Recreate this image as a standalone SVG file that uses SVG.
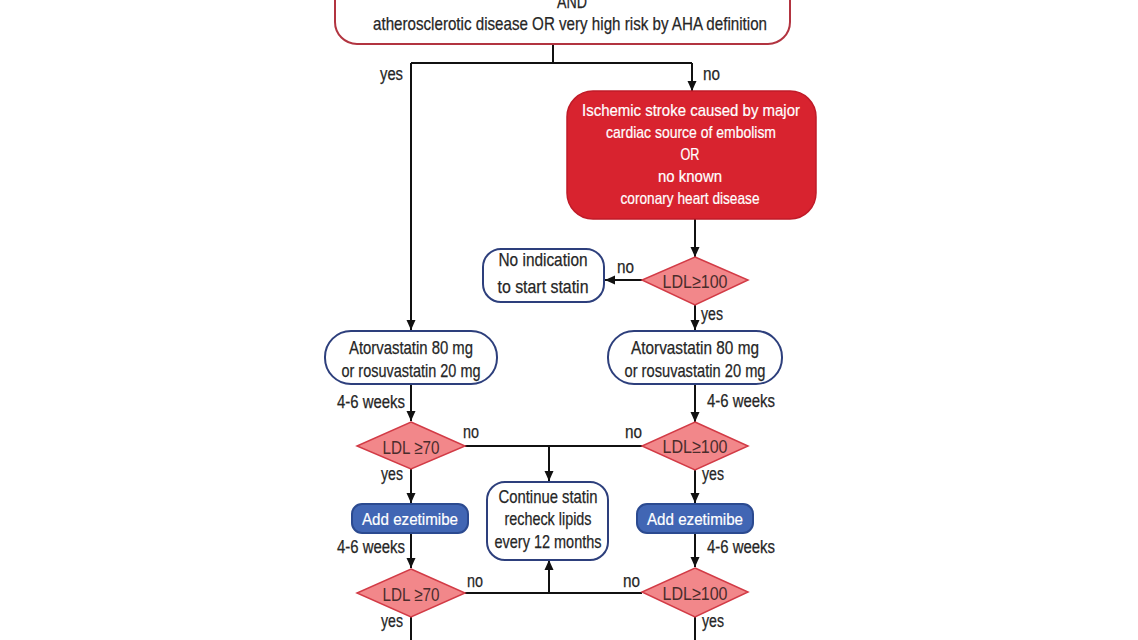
<svg xmlns="http://www.w3.org/2000/svg" width="1138" height="640" viewBox="0 0 1138 640">
<defs>
<marker id="arr" markerUnits="userSpaceOnUse" markerWidth="10" markerHeight="10" refX="10" refY="5" orient="auto">
<path d="M0,0.5 L10,5 L0,9.5 z" fill="#111"/>
</marker>
<style>
text{font-family:"Liberation Sans",Arial,sans-serif;}
.t{font-size:19px;fill:#262626;text-anchor:middle;stroke:#262626;stroke-width:0.25;}
.s{font-size:18px;fill:#262626;stroke:#262626;stroke-width:0.25;}
.w{font-size:17px;fill:#ffffff;text-anchor:middle;stroke:#ffffff;stroke-width:0.2;}
.d{font-size:19px;fill:#4a2c2c;text-anchor:middle;}
.box{fill:#ffffff;stroke:#2d3f7c;stroke-width:2;}
.dia{fill:#f2878a;stroke:#d23b46;stroke-width:1.5;}
.ez{fill:#4166b4;stroke:#2b4a90;stroke-width:2;}
.ln{fill:none;stroke:#111;stroke-width:2;}
.ar{fill:none;stroke:#111;stroke-width:2;marker-end:url(#arr);}
</style>
</defs>
<rect width="1138" height="640" fill="#ffffff"/>

<g id="connectors">
<path class="ln" d="M553,44 V63 M411,63 H692"/>
<path class="ar" d="M411,63 V330"/>
<path class="ar" d="M692,63 V91"/>
<path class="ar" d="M695,219 V257"/>
<path class="ar" d="M642,280 H605"/>
<path class="ar" d="M695,305 V330"/>
<path class="ar" d="M411,385 V421"/>
<path class="ar" d="M695,385 V422"/>
<path class="ln" d="M465,446 H642"/>
<path class="ar" d="M549,446 V481"/>
<path class="ar" d="M411,469 V503"/>
<path class="ar" d="M695,470 V503"/>
<path class="ar" d="M411,533 V568"/>
<path class="ar" d="M695,533 V567"/>
<path class="ln" d="M465,593 H642"/>
<path class="ar" d="M549,593 V560"/>
<path class="ln" d="M411,617 V640 M695,617 V640"/>
<text class="s" x="380" y="80" textLength="23" lengthAdjust="spacingAndGlyphs">yes</text>
<text class="s" x="703" y="80" textLength="17" lengthAdjust="spacingAndGlyphs">no</text>
<text class="s" x="617" y="273" textLength="17" lengthAdjust="spacingAndGlyphs">no</text>
<text class="s" x="701" y="320" textLength="22" lengthAdjust="spacingAndGlyphs">yes</text>
<text class="s" x="405" y="408" text-anchor="end" textLength="68" lengthAdjust="spacingAndGlyphs">4-6 weeks</text>
<text class="s" x="707" y="407" textLength="68" lengthAdjust="spacingAndGlyphs">4-6 weeks</text>
<text class="s" x="463" y="438" textLength="16" lengthAdjust="spacingAndGlyphs">no</text>
<text class="s" x="625" y="438" textLength="17" lengthAdjust="spacingAndGlyphs">no</text>
<text class="s" x="381" y="480" textLength="22" lengthAdjust="spacingAndGlyphs">yes</text>
<text class="s" x="702" y="480" textLength="22" lengthAdjust="spacingAndGlyphs">yes</text>
<text class="s" x="405" y="553" text-anchor="end" textLength="68" lengthAdjust="spacingAndGlyphs">4-6 weeks</text>
<text class="s" x="707" y="553" textLength="68" lengthAdjust="spacingAndGlyphs">4-6 weeks</text>
<text class="s" x="467" y="587" textLength="16" lengthAdjust="spacingAndGlyphs">no</text>
<text class="s" x="623" y="587" textLength="17" lengthAdjust="spacingAndGlyphs">no</text>
<text class="s" x="381" y="627" textLength="22" lengthAdjust="spacingAndGlyphs">yes</text>
<text class="s" x="702" y="627" textLength="22" lengthAdjust="spacingAndGlyphs">yes</text>
</g>

<g id="n-top">
<rect x="335" y="-40" width="455" height="84" rx="22" fill="#ffffff" stroke="#b23440" stroke-width="2"/>
<text class="t" x="572" y="8" textLength="30" lengthAdjust="spacingAndGlyphs">AND</text>
<text class="t" x="570" y="30" textLength="394" lengthAdjust="spacingAndGlyphs">atherosclerotic disease OR very high risk by AHA definition</text>
</g>

<g id="n-stroke">
<rect x="567" y="91" width="249" height="128" rx="26" fill="#d8232f" stroke="#c01b28" stroke-width="1.5"/>
<text class="w" x="691" y="116" textLength="218" lengthAdjust="spacingAndGlyphs">Ischemic stroke caused by major</text>
<text class="w" x="691" y="138" textLength="170" lengthAdjust="spacingAndGlyphs">cardiac source of embolism</text>
<text class="w" x="690" y="160" textLength="19" lengthAdjust="spacingAndGlyphs">OR</text>
<text class="w" x="690" y="182" textLength="64" lengthAdjust="spacingAndGlyphs">no known</text>
<text class="w" x="690" y="204" textLength="139" lengthAdjust="spacingAndGlyphs">coronary heart disease</text>
</g>

<g id="n-ldl1">
<polygon class="dia" points="695,257 748,280 695,305 642,280"/>
<text class="d" x="695" y="288" textLength="65" lengthAdjust="spacingAndGlyphs">LDL≥100</text>
</g>

<g id="n-noind">
<rect class="box" x="483" y="249" width="121" height="53" rx="18"/>
<text class="t" x="543" y="266" textLength="89" lengthAdjust="spacingAndGlyphs">No indication</text>
<text class="t" x="543" y="293" textLength="91" lengthAdjust="spacingAndGlyphs">to start statin</text>
</g>

<g id="n-atorv-left">
<rect class="box" x="325" y="331" width="172" height="53" rx="26"/>
<text class="t" x="411" y="354" textLength="124" lengthAdjust="spacingAndGlyphs">Atorvastatin 80 mg</text>
<text class="t" x="411" y="377" textLength="139" lengthAdjust="spacingAndGlyphs">or rosuvastatin 20 mg</text>
</g>

<g id="n-atorv-right">
<rect class="box" x="608" y="331" width="174" height="53" rx="26"/>
<text class="t" x="695" y="354" textLength="128" lengthAdjust="spacingAndGlyphs">Atorvastatin 80 mg</text>
<text class="t" x="695" y="377" textLength="141" lengthAdjust="spacingAndGlyphs">or rosuvastatin 20 mg</text>
</g>

<g id="n-ldl70-a">
<polygon class="dia" points="411,422 465,446 411,469 357,446"/>
<text class="d" x="411" y="454" textLength="57" lengthAdjust="spacingAndGlyphs">LDL ≥70</text>
</g>

<g id="n-ldl100-a">
<polygon class="dia" points="695,422 748,446 695,470 642,446"/>
<text class="d" x="695" y="453" textLength="65" lengthAdjust="spacingAndGlyphs">LDL≥100</text>
</g>

<g id="n-continue">
<rect class="box" x="487" y="482" width="121" height="78" rx="18"/>
<text class="t" x="548" y="503" textLength="99" lengthAdjust="spacingAndGlyphs">Continue statin</text>
<text class="t" x="548" y="525" textLength="87" lengthAdjust="spacingAndGlyphs">recheck lipids</text>
<text class="t" x="548" y="548" textLength="107" lengthAdjust="spacingAndGlyphs">every 12 months</text>
</g>

<g id="n-ez-left">
<rect class="ez" x="352" y="504" width="116" height="29" rx="10"/>
<text class="w" x="410" y="525" font-size="18" textLength="96" lengthAdjust="spacingAndGlyphs">Add ezetimibe</text>
</g>

<g id="n-ez-right">
<rect class="ez" x="637" y="504" width="116" height="29" rx="10"/>
<text class="w" x="695" y="525" font-size="18" textLength="96" lengthAdjust="spacingAndGlyphs">Add ezetimibe</text>
</g>

<g id="n-ldl70-b">
<polygon class="dia" points="411,569 465,593 411,617 357,593"/>
<text class="d" x="411" y="601" textLength="57" lengthAdjust="spacingAndGlyphs">LDL ≥70</text>
</g>

<g id="n-ldl100-b">
<polygon class="dia" points="695,568 748,592 695,617 642,592"/>
<text class="d" x="695" y="600" textLength="65" lengthAdjust="spacingAndGlyphs">LDL≥100</text>
</g>
</svg>
